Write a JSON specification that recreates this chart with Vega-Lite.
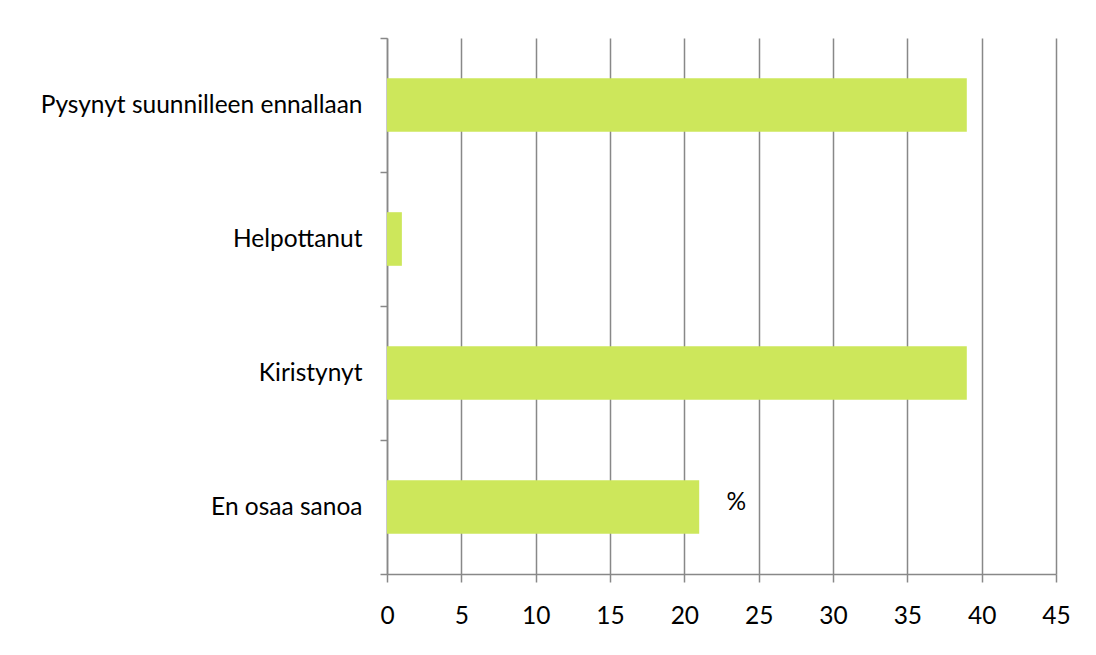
{
  "$schema": "https://vega.github.io/schema/vega-lite/v6.json",
  "width": 669,
  "height": 536,
  "autosize": {"type": "none"},
  "padding": {"left": 387, "top": 38, "right": 40, "bottom": 81},
  "background": "white",
  "config": {
    "view": {"stroke": null},
    "font": "Lato"
  },
  "datasets": {
    "bars": [
      {"kategoria": "Pysynyt suunnilleen ennallaan", "prosentti": 39},
      {"kategoria": "Helpottanut", "prosentti": 1},
      {"kategoria": "Kiristynyt", "prosentti": 39},
      {"kategoria": "En osaa sanoa", "prosentti": 21}
    ],
    "note": [
      {"kategoria": "En osaa sanoa", "prosentti": 23.5, "teksti": "%"}
    ]
  },
  "layer": [
    {
      "data": {"name": "bars"},
      "mark": {"type": "bar", "color": "#CDE75B", "height": {"band": 0.4}},
      "encoding": {
        "y": {
          "field": "kategoria", "type": "nominal", "sort": null,
          "scale": {"paddingInner": 0, "paddingOuter": 0},
          "axis": {
            "title": null, "tickBand": "extent", "tickSize": 7,
            "domainColor": "#888888", "tickColor": "#888888", "domainWidth": 1.5, "tickWidth": 1.5,
            "labelFontSize": 24.5, "labelColor": "#000000", "labelPadding": 18, "labelLimit": 400
          }
        },
        "x": {
          "field": "prosentti", "type": "quantitative",
          "scale": {"domain": [0, 45], "nice": false},
          "axis": {
            "title": null, "values": [0, 5, 10, 15, 20, 25, 30, 35, 40, 45],
            "grid": true, "gridColor": "#888888", "gridWidth": 1.5, "gridOpacity": 1,
            "domainColor": "#888888", "tickColor": "#888888", "domainWidth": 1.5, "tickWidth": 1.5, "tickSize": 8,
            "labelFontSize": 24.5, "labelColor": "#000000", "labelPadding": 22, "labelFlush": false
          }
        }
      }
    },
    {
      "data": {"name": "note"},
      "mark": {"type": "text", "fontSize": 24.5, "color": "#000000", "align": "center", "dy": -4},
      "encoding": {
        "y": {"field": "kategoria", "type": "nominal", "sort": ["Pysynyt suunnilleen ennallaan", "Helpottanut", "Kiristynyt", "En osaa sanoa"]},
        "x": {"field": "prosentti", "type": "quantitative"},
        "text": {"field": "teksti"}
      }
    }
  ]
}
